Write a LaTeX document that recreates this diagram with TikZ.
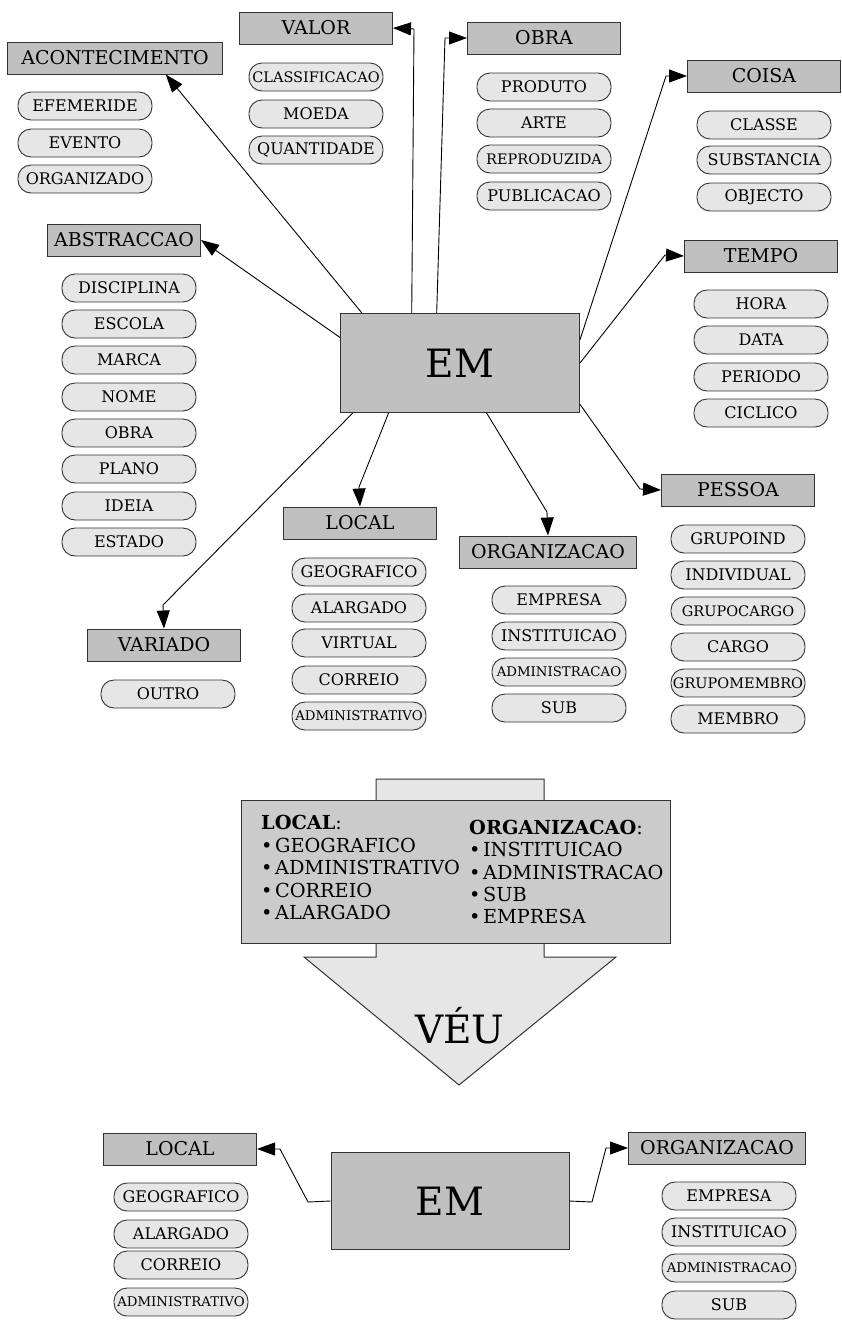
\documentclass[tikz,border=0pt]{standalone}
\usepackage{fontspec}
\setmainfont{DejaVu Serif}
\usepackage{tikz}
\usetikzlibrary{arrows.meta}
\definecolor{boxgray}{RGB}{192,192,192}
\definecolor{pillgray}{RGB}{230,230,230}
\definecolor{veilgray}{RGB}{203,203,203}
\definecolor{edgegray}{RGB}{51,51,51}
\newcommand{\bul}{•\hspace{2.5pt}}

\begin{document}
\begin{tikzpicture}[x=1pt,y=-1pt,
    cat/.style={draw=edgegray, fill=boxgray, line width=1pt, minimum width=153pt, minimum height=32pt, inner xsep=6pt, font=\fontsize{19}{22}\selectfont},
    item/.style={draw=edgegray, fill=pillgray, line width=0.9pt, rounded corners=13pt, minimum width=134pt, minimum height=28pt, inner xsep=1pt, font=\fontsize{16}{18}\selectfont},
    itemsm/.style={item, font=\fontsize{14.5}{16}\selectfont},
    itemxs/.style={item, font=\fontsize{13.3}{15}\selectfont},
    core/.style={draw=edgegray, fill=boxgray, line width=1pt, minimum width=239pt, minimum height=99pt, font=\fontsize{39}{44}\selectfont},
    link/.style={-{Triangle[length=18pt,width=13pt]}, line width=0.9pt}]
            \useasboundingbox (0,0) rectangle (842,1326);

            % EM
            \node[core] (em) at (460,363) {EM};

            % Categories
            \node[cat, minimum width=215pt] (acont) at (115,58) {ACONTECIMENTO};
            \node[cat] (valor) at (316,28) {VALOR};
            \node[cat] (obra) at (544,38) {OBRA};
            \node[cat] (coisa) at (764,76) {COISA};
            \node[cat] (abstr) at (124,240) {ABSTRACCAO};
            \node[cat] (tempo) at (761,256) {TEMPO};
            \node[cat] (pessoa) at (738,490) {PESSOA};
            \node[cat] (local) at (360,523) {LOCAL};
            \node[cat, minimum width=177pt] (organiz) at (548,552) {ORGANIZACAO};
            \node[cat] (variado) at (164,645) {VARIADO};

            % Acontecimento
            \node[item] (efemeride) at (85,106) {EFEMERIDE};
            \node[item] (evento) at (85,143) {EVENTO};
            \node[item] (organizado) at (85,179) {ORGANIZADO};

            % Valor
            \node[itemsm] (classif) at (316,77) {CLASSIFICACAO};
            \node[item] (moeda) at (316,114) {MOEDA};
            \node[item] (quantidade) at (316,150) {QUANTIDADE};

            % Obra
            \node[item] (produto) at (544,87) {PRODUTO};
            \node[item] (arte) at (544,123) {ARTE};
            \node[itemsm] (reproduzida) at (544,159) {REPRODUZIDA};
            \node[item] (publicacao) at (544,196) {PUBLICACAO};

            % Coisa
            \node[item] (classe) at (764,125) {CLASSE};
            \node[item] (substancia) at (764,160) {SUBSTANCIA};
            \node[item] (objecto) at (764,197) {OBJECTO};

            % Abstraccao
            \node[item] (disciplina) at (129,288) {DISCIPLINA};
            \node[item] (escola) at (129,324) {ESCOLA};
            \node[item] (marca) at (129,360) {MARCA};
            \node[item] (nome) at (129,397) {NOME};
            \node[item] (abobra) at (129,433) {OBRA};
            \node[item] (plano) at (129,469) {PLANO};
            \node[item] (ideia) at (129,506) {IDEIA};
            \node[item] (estado) at (129,542) {ESTADO};

            % Tempo
            \node[item] (hora) at (761,304) {HORA};
            \node[item] (data) at (761,340) {DATA};
            \node[item] (periodo) at (761,377) {PERIODO};
            \node[item] (ciclico) at (761,413) {CICLICO};

            % Pessoa
            \node[item] (grupoind) at (738,539) {GRUPOIND};
            \node[item] (individual) at (738,575) {INDIVIDUAL};
            \node[itemsm] (grupocargo) at (738,611) {GRUPOCARGO};
            \node[item] (cargo) at (738,647) {CARGO};
            \node[itemsm] (grupomembro) at (738,683) {GRUPOMEMBRO};
            \node[item] (membro) at (738,719) {MEMBRO};

            % Local
            \node[item] (geografico) at (359,572) {GEOGRAFICO};
            \node[item] (alargado) at (359,608) {ALARGADO};
            \node[item] (virtual) at (359,643) {VIRTUAL};
            \node[item] (correio) at (359,680) {CORREIO};
            \node[itemxs] (administrativo) at (359,716) {ADMINISTRATIVO};

            % Organizacao
            \node[item] (empresa) at (559,600) {EMPRESA};
            \node[item] (instituicao) at (559,636) {INSTITUICAO};
            \node[itemxs] (administracao) at (559,672) {ADMINISTRACAO};
            \node[item] (sub) at (559,708) {SUB};

            % Variado
            \node[item] (outro) at (168,694) {OUTRO};

            % Arrows
            \draw[link] (em.153) -- (acont.-18);
            \draw[link] (em.134) -- (414,29) -- (valor.east);
            \draw[link] (em.115) -- (445,38) -- (obra.west);
            \draw[link] (em.11) -- (666,76) -- (coisa.west);
            \draw[link] (em.168) -- (abstr.east);
            \draw[link] (em.east) -- (665,255) -- (tempo.west);
            \draw[link] (em.-19) -- (640,489) -- (pessoa.west);
            \draw[link] (em.-62) -- (547,512) -- (organiz.north);
            \draw[link] (em.-145) -- (359,487) -- (local.north);
            \draw[link] (em.-155) -- (163,605) -- (variado.north);

            % Veu
            \draw[draw=edgegray, fill=pillgray, line width=1pt] (376,779) -- (544,779) -- (544,957) -- (616,957) -- (459,1085) -- (304,957) -- (376,957) -- cycle;
            \draw[draw=edgegray, fill=veilgray, line width=1pt] (241,800) rectangle (670,943);
            \node[anchor=north west, inner sep=0pt, align=left, font=\fontsize{19.3}{22.5}\selectfont] (veilleft) at (261,815)
                {\textbf{LOCAL}:\\\bul GEOGRAFICO\\\bul ADMINISTRATIVO\\\bul CORREIO\\\bul ALARGADO};
            \node[anchor=north west, inner sep=0pt, align=left, font=\fontsize{19.3}{22.3}\selectfont] (veilright) at (469,820)
                {\textbf{ORGANIZACAO}:\\\bul INSTITUICAO\\\bul ADMINISTRACAO\\\bul SUB\\\bul EMPRESA};
            \node[font=\fontsize{39}{44}\selectfont] (veu) at (460,1026) {VÉU};

            % Result
            \node[core, minimum width=238pt, minimum height=97pt] (em2) at (450,1201) {EM};
            \node[cat] (local2) at (180,1149) {LOCAL};
            \node[cat, minimum width=177pt] (organiz2) at (717,1148) {ORGANIZACAO};

            \node[item] (geografico2) at (181,1197) {GEOGRAFICO};
            \node[item] (alargado2) at (181,1234) {ALARGADO};
            \node[item] (correio2) at (181,1265) {CORREIO};
            \node[itemxs] (administrativo2) at (181,1302) {ADMINISTRATIVO};

            \node[item] (empresa2) at (729,1196) {EMPRESA};
            \node[item] (instituicao2) at (729,1232) {INSTITUICAO};
            \node[itemxs] (administracao2) at (729,1268) {ADMINISTRACAO};
            \node[item] (sub2) at (729,1305) {SUB};

            \draw[link] (em2.west) -- (308,1202) -- (280,1149) -- (local2.east);
            \draw[link] (em2.east) -- (592,1202) -- (606,1148) -- (organiz2.west);
        \end{tikzpicture}
\end{document}
